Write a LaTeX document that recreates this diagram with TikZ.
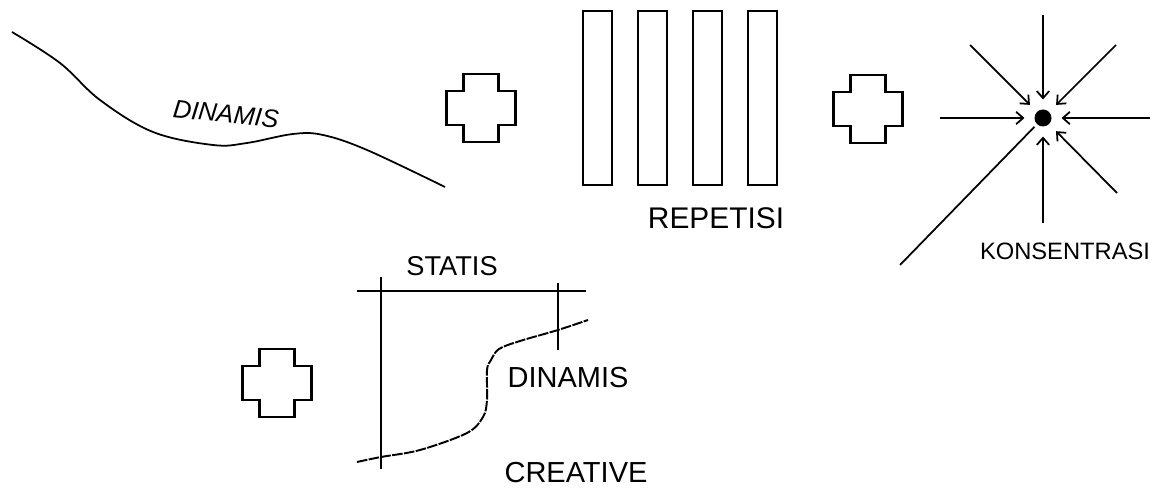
\documentclass[tikz,border=0pt]{standalone}
\usepackage{fontspec}
\setmainfont{Liberation Sans}
\usetikzlibrary{positioning,arrows.meta,calc}

\begin{document}
\begin{tikzpicture}[
  x=.02cm,y=-.02cm,>={Straight Barb[length=4pt,width=7pt]},
  sketchline/.style={black,line width=1pt},
  plusline/.style={black,line width=1.5pt,line join=miter},
  barline/.style={black,line width=1.2pt},
  sline/.style={black,line width=1.1pt,dash pattern=on 6pt off .8pt},
  inray/.style={->,black,line width=1pt,shorten >=5.5pt},
  focusdot/.style={circle,fill=black,inner sep=0pt,minimum size=.34cm},
  lbl/.style={inner sep=0pt,font=\fontsize{#1}{#1}\selectfont}
]
\useasboundingbox (0,0) rectangle (1160,492);
% the three plus signs share one outline
\foreach \cx/\cy in {481/108,868/109,277/383} {
  \draw[plusline,shift={(\cx,\cy)}]
    (-17.5,-34) -- (17.5,-34) -- (17.5,-17) -- (34.5,-17) -- (34.5,17)
    -- (17.5,17) -- (17.5,34) -- (-17.5,34) -- (-17.5,17) -- (-34.5,17)
    -- (-34.5,-17) -- (-17.5,-17) -- cycle;
}
\draw[sketchline] plot[smooth,tension=.6] coordinates {
  (12,32) (60,63) (100,100) (153,132) (213,145) (247,143)
  (293,134) (323,135) (367,150) (445,187)};
\node[lbl=14.5,rotate=-6] (dinamistop) at (226,114) {\itshape DINAMIS};
\foreach \rx in {583,638,693,748} {
  \draw[barline] (\rx,11) rectangle +(29,174);
}
\node[lbl=17] (repetisi) at (716,218) {REPETISI};
\node[focusdot] (focus) at (1043,118) {};
\foreach \ex/\ey in {1043/15,970/45,1116/45,940/118,1150/118,1043/223,1117/193} {
  \coordinate (ray) at (\ex,\ey);
  \draw[inray] (ray) -- (focus);
}
\coordinate (raylong) at (900,265);
\draw[sketchline,shorten >=2pt] (raylong) -- (focus);
\node[lbl=13.5] (konsentrasi) at (1065,251) {KONSENTRASI};
\coordinate (statisw) at (357,291);
\coordinate (statise) at (586,291);
\coordinate (leftn) at (381,277);
\coordinate (lefts) at (381,469);
\coordinate (rightn) at (558,283);
\coordinate (rights) at (558,350);
\draw[sketchline,line width=1.3pt] (statisw) -- (statise);
\draw[sketchline] (leftn) -- (lefts);
\draw[sketchline] (rightn) -- (rights);
\draw[sline] plot[smooth,tension=.55] coordinates {
  (357,462) (381,457) (420,450) (467,433) (483,417) (487,400)
  (487,370) (491,360) (499,349) (520,341) (558,330) (588,320)};
\node[lbl=15.5] (statis) at (452,266) {STATIS};
\node[lbl=16.5] (dinamis) at (568,378) {DINAMIS};
\node[lbl=16.5] (creative) at (576,473) {CREATIVE};
\end{tikzpicture}
\end{document}
